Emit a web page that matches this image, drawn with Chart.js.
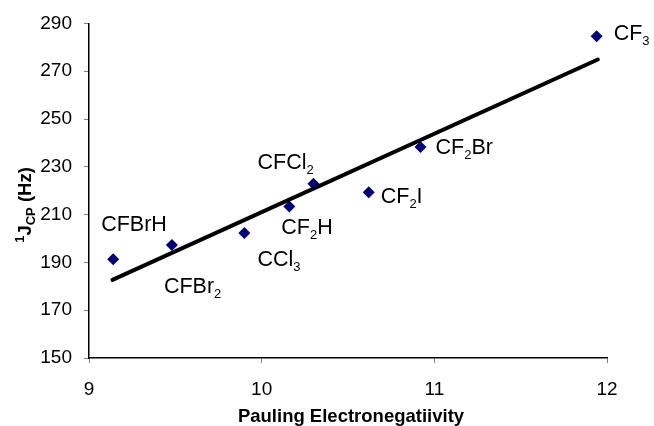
<!DOCTYPE html>
<html>
<head>
<meta charset="utf-8">
<script src="https://cdn.jsdelivr.net/npm/chart.js@4"></script>
<style>
  html, body { margin: 0; padding: 0; background: #fff; }
  #chart { display: block; }
</style>
</head>
<body>
<canvas id="chart" width="654" height="426"></canvas>
<script>
// data
const compounds = ["CFBrH", "CFBr2", "CCl3", "CF2H", "CFCl2", "CF2I", "CF2Br", "CF3"];
const electroneg = [9.14, 9.48, 9.90, 10.16, 10.30, 10.62, 10.92, 11.94];
const couplingHz = [191.3, 197.3, 202.3, 213.4, 222.9, 219.4, 238.3, 284.6];
const trendX = [9.136, 11.947];
const trendY = [182.7, 274.9];
const xTicks = [9, 10, 11, 12];
const yTicks = [150, 170, 190, 210, 230, 250, 270, 290];

// label placement relative to each point (px): left edge, baseline
const labelOffsets = [
  [-12, -28], [-8, 48], [13, 33], [-8, 28],
  [-56, -15], [12, 11], [15, 7], [17, 4]
];

const FONT = "'Liberation Sans', Arial, sans-serif";
const $ = (id) => document.getElementById(id);

// draw a formula, digits go to subscript
function drawFormula(ctx, text, x, y, size){
  let cx = x;
  for (const ch of text) {
    const sub = /[0-9]/.test(ch);
    ctx.font = `${sub ? 13 : size}px ${FONT}`;
    ctx.fillText(ch, cx, sub ? y + 5 : y);
    cx += ctx.measureText(ch).width;
  }
}

const textPlugin = {
  id: "textPlugin",
  afterDraw(chart){
    const ctx = chart.ctx;
    const meta = chart.getDatasetMeta(1);
    ctx.save();
    ctx.fillStyle = "#000";
    ctx.textAlign = "left";
    ctx.textBaseline = "alphabetic";
    meta.data.forEach((pt, i) => {
      const [dx, dy] = labelOffsets[i];
      drawFormula(ctx, compounds[i], pt.x + dx, pt.y + dy, 21.5);
    });

    // x title
    ctx.font = `bold 18.5px ${FONT}`;
    ctx.textAlign = "center";
    ctx.fillText("Pauling Electronegatiivity", 351, 422);

    // y title: 1J_CP (Hz)
    ctx.translate(31, 205);
    ctx.rotate(-Math.PI / 2);
    ctx.textAlign = "left";
    const parts = [
      { t: "1", s: 13, dy: -7 },
      { t: "J", s: 18.5, dy: 0 },
      { t: "CP", s: 13, dy: 4 },
      { t: " (Hz)", s: 18.5, dy: 0 }
    ];
    let w = 0;
    parts.forEach(p => { ctx.font = `bold ${p.s}px ${FONT}`; p.w = ctx.measureText(p.t).width; w += p.w; });
    let cx = -w / 2;
    parts.forEach(p => {
      ctx.font = `bold ${p.s}px ${FONT}`;
      ctx.fillText(p.t, cx, p.dy);
      cx += p.w;
    });
    ctx.restore();
  }
};

const axisStyle = {
  grid: { display: true, drawOnChartArea: false, drawTicks: true, tickLength: 5, tickColor: "#808080" },
  border: { display: true, color: "#000", width: 1.5 }
};

new Chart($("chart"), {
  type: "scatter",
  data: {
    datasets: [
      {
        label: "trend",
        data: trendX.map((x, i) => ({ x, y: trendY[i] })),
        showLine: true,
        borderColor: "#000",
        borderWidth: 4,
        pointRadius: 0,
        borderCapStyle: "round"
      },
      {
        label: "1J CP",
        data: electroneg.map((x, i) => ({ x, y: couplingHz[i] })),
        pointStyle: "rectRot",
        pointRadius: 6,
        pointBackgroundColor: "#000080",
        pointBorderWidth: 0
      }
    ]
  },
  options: {
    responsive: false,
    animation: false,
    devicePixelRatio: 1,
    layout: { padding: { left: 0, right: 47, top: 20, bottom: 0 } },
    plugins: { legend: { display: false }, tooltip: { enabled: false } },
    scales: {
      x: {
        type: "linear",
        min: xTicks[0],
        max: xTicks[xTicks.length - 1],
        afterBuildTicks: (s) => { s.ticks = xTicks.map(v => ({ value: v })); },
        afterFit: (s) => { s.height = 68; },
        ticks: { color: "#000", padding: 15, font: { family: FONT, size: 19 } },
        ...axisStyle
      },
      y: {
        min: yTicks[0],
        max: yTicks[yTicks.length - 1],
        afterBuildTicks: (s) => { s.ticks = yTicks.map(v => ({ value: v })); },
        afterFit: (s) => { s.width = 89; },
        ticks: { color: "#000", padding: 12, font: { family: FONT, size: 19 } },
        ...axisStyle
      }
    }
  },
  plugins: [textPlugin]
});
</script>
</body>
</html>
